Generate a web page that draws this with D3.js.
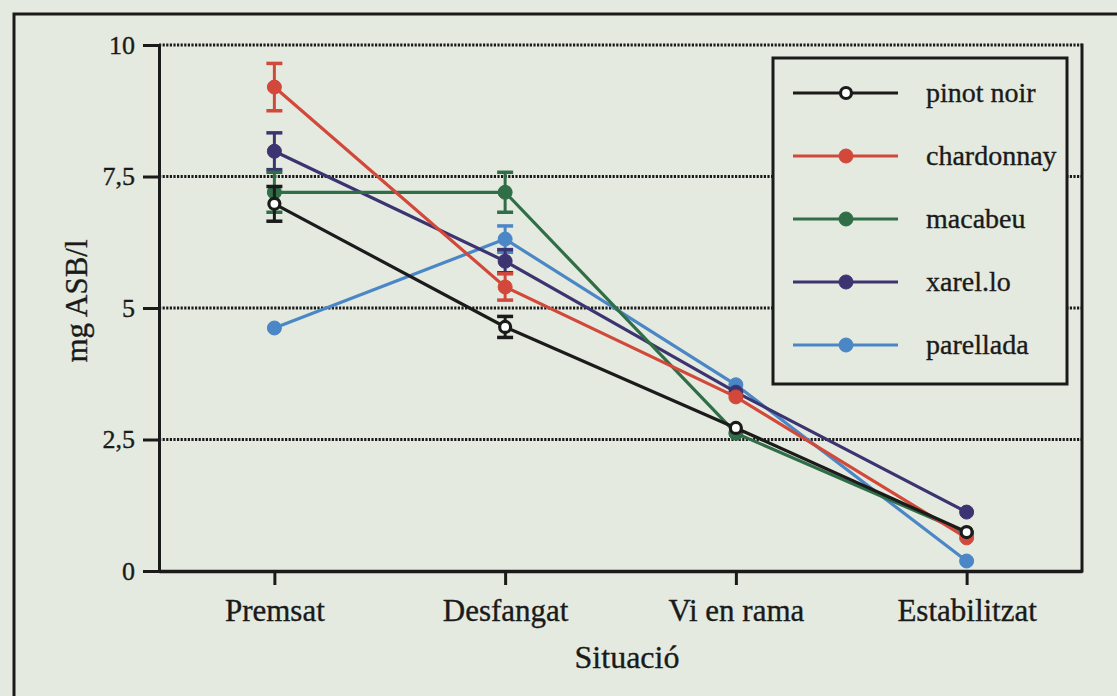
<!DOCTYPE html>
<html>
<head>
<meta charset="utf-8">
<script src="https://cdn.jsdelivr.net/npm/d3@7"></script>
<style>
  html, body { margin: 0; padding: 0; background: #e4eadf; }
  svg { display: block; }
  text { font-family: "Liberation Serif", "DejaVu Serif", serif; fill: #1a1a1a; stroke: #1a1a1a; stroke-width: 0.35px; }
</style>
</head>
<body>
<svg id="chart" width="1117" height="696"></svg>
<script>
// Stages of the winemaking process (x categories)
const stages = ["Premsat", "Desfangat", "Vi en rama", "Estabilitzat"];

// Grape varieties, in legend order
const varieties = ["pinot noir", "chardonnay", "macabeu", "xarel.lo", "parellada"];

// Mean mg ASB/l per stage, one array per variety
const pinotNoir  = [6.98, 4.64, 2.72, 0.74];
const chardonnay = [9.20, 5.40, 3.31, 0.63];
const macabeu    = [7.20, 7.20, 2.62, 0.72];
const xarello    = [7.98, 5.89, 3.40, 1.12];
const parellada  = [4.62, 6.31, 3.54, 0.19];

// Error (± half-range) per stage; 0 means no bar drawn
const pinotNoirErr  = [0.33, 0.20, 0, 0];
const chardonnayErr = [0.45, 0.25, 0, 0];
const macabeuErr    = [0.38, 0.38, 0, 0];
const xarelloErr    = [0.35, 0.22, 0, 0];
const parelladaErr  = [0, 0.25, 0, 0];

// Y axis ticks
const yTicks = [0, 2.5, 5, 7.5, 10];
const yTickLabels = ["0", "2,5", "5", "7,5", "10"];

const colors = {
  "pinot noir": "#1b1b1b",
  "chardonnay": "#d2483a",
  "macabeu": "#2f6e47",
  "xarel.lo": "#3c3471",
  "parellada": "#4b87c6"
};

const series = [
  { name: "pinot noir", values: pinotNoir, err: pinotNoirErr, open: true },
  { name: "chardonnay", values: chardonnay, err: chardonnayErr },
  { name: "macabeu", values: macabeu, err: macabeuErr },
  { name: "xarel.lo", values: xarello, err: xarelloErr },
  { name: "parellada", values: parellada, err: parelladaErr }
];

const svg = d3.select("#chart");
const bg = "#e4eadf";
const ink = "#1a1a1a";

// Page frame
svg.append("path")
  .attr("d", "M14,700 L14,14 L1120,14")
  .attr("fill", "none").attr("stroke", ink).attr("stroke-width", 3);

const plot = { left: 159, right: 1082, top: 45, bottom: 571 };

const x = d3.scalePoint().domain(stages).range([plot.left, plot.right]).padding(0.5);
const y = d3.scaleLinear().domain([0, 10]).range([plot.bottom, plot.top]);

// Dotted horizontal reference lines
svg.append("g").selectAll("line")
  .data(yTicks.filter(d => d > 0))
  .join("line")
  .attr("x1", plot.left).attr("x2", plot.right)
  .attr("y1", d => y(d)).attr("y2", d => y(d))
  .attr("stroke", ink).attr("stroke-width", 3)
  .attr("stroke-dasharray", "2.2,1.4");

// Right edge of the plot
svg.append("line")
  .attr("x1", plot.right).attr("x2", plot.right)
  .attr("y1", plot.top - 1.5).attr("y2", plot.bottom + 1.5)
  .attr("stroke", ink).attr("stroke-width", 3);

// Y axis
const yAxis = svg.append("g")
  .attr("transform", `translate(${plot.left},0)`)
  .call(d3.axisLeft(y).tickValues(yTicks).tickSize(16).tickPadding(8)
    .tickFormat((d, i) => yTickLabels[i]));
yAxis.select(".domain").attr("stroke", ink).attr("stroke-width", 3);
yAxis.selectAll(".tick line").attr("stroke", ink).attr("stroke-width", 3);
yAxis.selectAll(".tick text").attr("font-size", 26).attr("font-family", "Liberation Serif").attr("fill", ink);

// X axis
const xAxis = svg.append("g")
  .attr("transform", `translate(0,${plot.bottom})`)
  .call(d3.axisBottom(x).tickSize(14).tickPadding(14).tickSizeOuter(0));
xAxis.select(".domain").attr("stroke", ink).attr("stroke-width", 3.5);
xAxis.selectAll(".tick line").attr("stroke", ink).attr("stroke-width", 3);
xAxis.selectAll(".tick text").attr("font-size", 31).attr("font-family", "Liberation Serif").attr("fill", ink);

// Axis titles
svg.append("text")
  .attr("x", 627).attr("y", 668)
  .attr("text-anchor", "middle").attr("font-size", 32)
  .text("Situació");

svg.append("text")
  .attr("transform", "translate(87,301) rotate(-90)")
  .attr("text-anchor", "middle").attr("font-size", 31)
  .text("mg ASB/l");

// Series, drawn last-to-first so pinot noir sits on top
const line = d3.line().x((d, i) => x(stages[i])).y(d => y(d));
const drawOrder = series.slice().reverse();

drawOrder.forEach(s => {
  const g = svg.append("g");
  const c = colors[s.name];
  // Error bars
  const errs = s.values.map((v, i) => ({ v, e: s.err[i], st: stages[i] })).filter(d => d.e > 0);
  const eb = g.selectAll("g.err").data(errs).join("g").attr("class", "err");
  eb.append("line")
    .attr("x1", d => x(d.st)).attr("x2", d => x(d.st))
    .attr("y1", d => y(d.v + d.e)).attr("y2", d => y(d.v - d.e))
    .attr("stroke", c).attr("stroke-width", 3);
  eb.append("line")
    .attr("x1", d => x(d.st) - 8).attr("x2", d => x(d.st) + 8)
    .attr("y1", d => y(d.v + d.e)).attr("y2", d => y(d.v + d.e))
    .attr("stroke", c).attr("stroke-width", 3.5);
  eb.append("line")
    .attr("x1", d => x(d.st) - 8).attr("x2", d => x(d.st) + 8)
    .attr("y1", d => y(d.v - d.e)).attr("y2", d => y(d.v - d.e))
    .attr("stroke", c).attr("stroke-width", 3.5);
  // Line
  g.append("path")
    .datum(s.values)
    .attr("d", line)
    .attr("fill", "none").attr("stroke", c).attr("stroke-width", 3.2);
  // Markers
  g.selectAll("circle").data(s.values).join("circle")
    .attr("cx", (d, i) => x(stages[i])).attr("cy", d => y(d))
    .attr("r", s.open ? 5.5 : 7)
    .attr("fill", s.open ? "#ffffff" : c)
    .attr("stroke", c).attr("stroke-width", s.open ? 3.2 : 1);
});

// Legend
const legend = { x: 773, y: 58, w: 294, h: 326 };
svg.append("rect")
  .attr("x", legend.x).attr("y", legend.y)
  .attr("width", legend.w).attr("height", legend.h)
  .attr("fill", bg).attr("stroke", ink).attr("stroke-width", 3);

const legendRows = svg.append("g").selectAll("g")
  .data(series).join("g")
  .attr("transform", (d, i) => `translate(0,${93 + i * 63})`);
legendRows.append("line")
  .attr("x1", 793).attr("x2", 898).attr("y1", 0).attr("y2", 0)
  .attr("stroke", d => colors[d.name]).attr("stroke-width", 3.2);
legendRows.append("circle")
  .attr("cx", 846).attr("cy", 0)
  .attr("r", d => d.open ? 5.5 : 7)
  .attr("fill", d => d.open ? "#ffffff" : colors[d.name])
  .attr("stroke", d => colors[d.name]).attr("stroke-width", d => d.open ? 3.2 : 1);
legendRows.append("text")
  .attr("x", 926).attr("y", 9)
  .attr("font-size", 28)
  .text(d => d.name);
</script>
</body>
</html>
